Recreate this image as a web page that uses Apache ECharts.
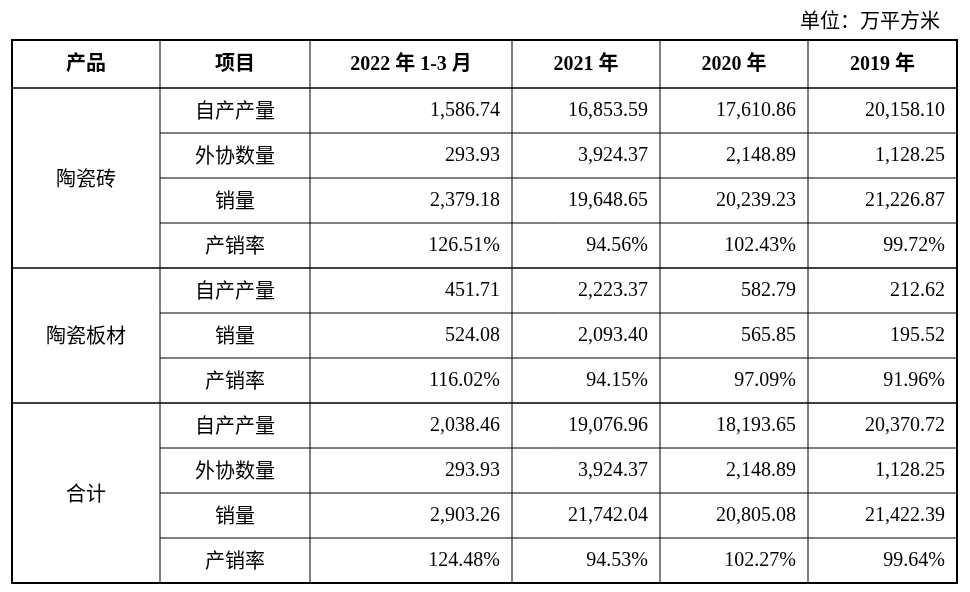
<!DOCTYPE html>
<html><head><meta charset="utf-8">
<script src="https://cdn.jsdelivr.net/npm/echarts@6/dist/echarts.min.js"></script>
<style>html,body{margin:0;background:#fff}#c{width:970px;height:592px}</style>
</head><body><div id="c"></div>
<script>
const unitLabel = "单位：万平方米";
const headers = ["产品", "项目", "2022 年 1-3 月", "2021 年", "2020 年", "2019 年"];
const products = ["陶瓷砖", "陶瓷板材", "合计"];
const groupItems = [
  ["自产产量", "外协数量", "销量", "产销率"],
  ["自产产量", "销量", "产销率"],
  ["自产产量", "外协数量", "销量", "产销率"]
];
const v2022 = ["1,586.74","293.93","2,379.18","126.51%","451.71","524.08","116.02%","2,038.46","293.93","2,903.26","124.48%"];
const v2021 = ["16,853.59","3,924.37","19,648.65","94.56%","2,223.37","2,093.40","94.15%","19,076.96","3,924.37","21,742.04","94.53%"];
const v2020 = ["17,610.86","2,148.89","20,239.23","102.43%","582.79","565.85","97.09%","18,193.65","2,148.89","20,805.08","102.27%"];
const v2019 = ["20,158.10","1,128.25","21,226.87","99.72%","212.62","195.52","91.96%","20,370.72","1,128.25","21,422.39","99.64%"];

(function(){
const colX = [12, 160, 310, 512, 660, 808, 957];
const tY = 40, headH = 48, rowH = 45;
const serif = '"Liberation Serif","Noto Sans CJK SC",serif';
const cjk = '"Noto Sans CJK SC",sans-serif';
const els = [];
function line(x1,y1,x2,y2,w){els.push({type:'line',shape:{x1,y1,x2,y2},style:{stroke:'#000',lineWidth:w}});}
function text(t,x,y,align,font,bold){els.push({type:'text',x,y,style:{text:t,textAlign:align,textVerticalAlign:'middle',font:(bold?'bold ':'')+'20px '+font,fill:'#000'}});}

text(unitLabel, 940, 20, 'right', cjk);
const nRows = v2022.length;
const bottom = tY + headH + nRows*rowH;
headers.forEach((h,i)=>text(h,(colX[i]+colX[i+1])/2, tY+headH/2+1,'center',serif,true));
const cols=[v2022,v2021,v2020,v2019];
let r=0;
groupItems.forEach((items,g)=>{
  const y0=tY+headH+r*rowH;
  text(products[g],(colX[0]+colX[1])/2,y0+items.length*rowH/2,'center',cjk);
  items.forEach((it,k)=>{
    const yc=tY+headH+(r+k)*rowH+rowH/2;
    text(it,(colX[1]+colX[2])/2,yc,'center',cjk);
    cols.forEach((c,j)=>text(c[r+k],colX[j+3]-12,yc,'right',serif));
    if(k>0) line(colX[1],yc-rowH/2,colX[6],yc-rowH/2,1);
  });
  r+=items.length;
  if(g<groupItems.length-1) line(colX[0],tY+headH+r*rowH,colX[6],tY+headH+r*rowH,1.5);
});
line(colX[0],tY+headH,colX[6],tY+headH,1.5);
for(let i=1;i<6;i++) line(colX[i],tY,colX[i],bottom,1);
els.push({type:'rect',shape:{x:colX[0],y:tY,width:colX[6]-colX[0],height:bottom-tY},style:{fill:'none',stroke:'#000',lineWidth:2}});

const chart=echarts.init(document.getElementById('c'));
chart.setOption({animation:false,graphic:{elements:els}});
})();
</script></body></html>
